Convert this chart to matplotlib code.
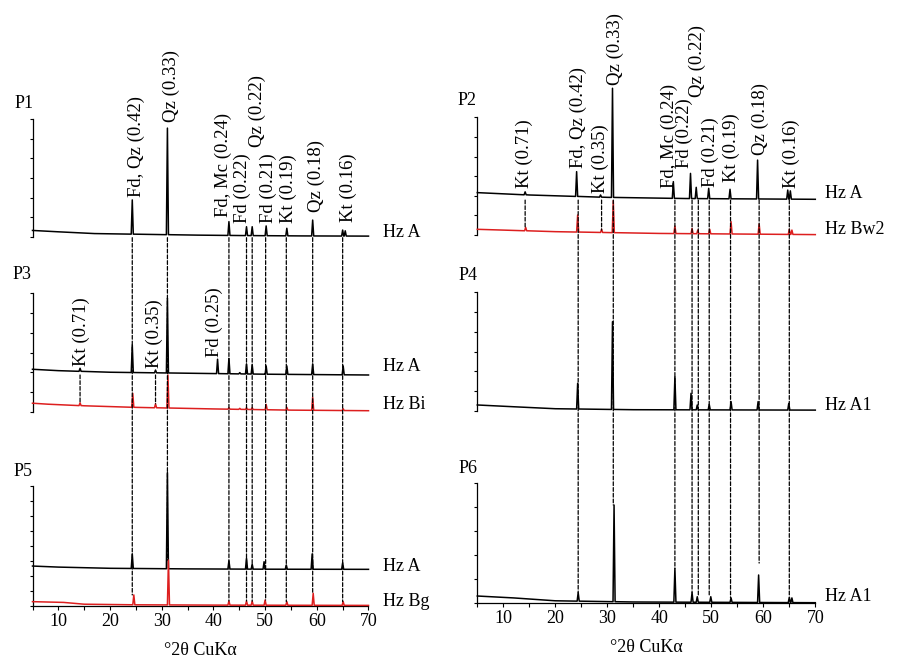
import matplotlib
matplotlib.use("Agg")
import matplotlib.pyplot as plt
from matplotlib.patches import ConnectionPatch
import numpy as np

plt.rcParams['font.family'] = ['Liberation Serif', 'DejaVu Serif']

# --- data (intensity in tick units of each panel) ---
two_theta_ticks = [10, 20, 30, 40, 50, 60, 70]

# P1
p1a_bg_x = [5, 10, 17, 27, 37, 45, 57, 70]
p1a_bg_y = [0.32, 0.25, 0.16, 0.12, 0.08, 0.06, 0.04, 0.03]
p1a_pk_x = [24.3, 31.1, 43.0, 46.4, 47.5, 50.2, 54.2, 59.2, 65.0, 65.5]
p1a_pk_h = [1.88, 5.55, 0.77, 0.51, 0.51, 0.55, 0.43, 0.85, 0.34, 0.30]

# P3
p3a_bg_x = [5, 10, 20, 35, 50, 70]
p3a_bg_y = [2.15, 2.08, 2.00, 1.95, 1.90, 1.86]
p3a_pk_x = [14.2, 24.3, 28.8, 31.1, 40.8, 43.0, 45.1, 46.4, 47.5, 50.2, 54.2, 59.2, 65.1]
p3a_pk_h = [2.20, 3.38, 2.11, 5.75, 2.66, 2.70, 1.98, 2.42, 2.37, 2.32, 2.32, 2.42, 2.32]
p3b_bg_x = [5, 8, 15, 25, 40, 55, 70]
p3b_bg_y = [0.43, 0.38, 0.30, 0.22, 0.14, 0.08, 0.05]
p3b_pk_x = [14.2, 24.4, 28.8, 31.2, 43.0, 45.1, 46.4, 47.5, 50.2, 54.2, 59.2, 65.1]
p3b_pk_h = [0.45, 0.93, 0.40, 1.86, 0.20, 0.17, 0.20, 0.20, 0.37, 0.22, 0.73, 0.15]

# P5
p5a_bg_x = [5, 10, 20, 35, 50, 70]
p5a_bg_y = [2.65, 2.58, 2.50, 2.46, 2.44, 2.43]
p5a_pk_x = [24.3, 31.1, 43.0, 46.4, 47.5, 49.8, 54.1, 59.1, 65.0]
p5a_pk_h = [3.46, 8.90, 3.00, 3.17, 2.77, 2.94, 2.72, 3.46, 2.87]
p5b_bg_x = [5, 11, 15, 25, 40, 70]
p5b_bg_y = [0.27, 0.22, 0.10, 0.06, 0.04, 0.02]
p5b_pk_x = [24.6, 31.3, 43.0, 46.4, 47.5, 50.0, 54.2, 59.3, 65.1]
p5b_pk_h = [0.72, 3.05, 0.31, 0.31, 0.30, 0.38, 0.27, 0.83, 0.27]

# P2
p2a_bg_x = [5, 15, 30, 45, 70]
p2a_bg_y = [2.16, 2.04, 1.92, 1.86, 1.82]
p2a_pk_x = [14.2, 24.1, 28.7, 31.0, 42.7, 46.0, 47.1, 49.5, 53.6, 58.9, 64.7, 65.2]
p2a_pk_h = [2.20, 3.23, 2.04, 7.48, 2.72, 3.14, 2.43, 2.38, 2.33, 3.82, 2.29, 2.25]
p2b_bg_x = [5, 10, 20, 40, 70]
p2b_bg_y = [0.29, 0.25, 0.17, 0.08, 0.02]
p2b_pk_x = [14.3, 24.3, 28.9, 31.15, 43.0, 46.3, 47.4, 49.7, 53.8, 59.2, 65.0, 65.5]
p2b_pk_h = [0.39, 1.02, 0.29, 1.75, 0.46, 0.33, 0.25, 0.29, 0.68, 0.56, 0.29, 0.25]

# P4
p4a_bg_x = [5, 12, 20, 35, 70]
p4a_bg_y = [0.29, 0.20, 0.10, 0.05, 0.03]
p4a_pk_x = [24.3, 31.0, 43.0, 46.1, 47.3, 49.6, 53.8, 59.0, 64.9]
p4a_pk_h = [1.39, 4.51, 1.72, 0.88, 0.29, 0.32, 0.46, 0.46, 0.37]

# P6
p6a_bg_x = [5, 12, 20, 35, 70]
p6a_bg_y = [0.28, 0.20, 0.08, 0.03, 0.00]
p6a_pk_x = [24.4, 31.3, 43.0, 46.3, 47.3, 49.9, 53.8, 59.1, 65.0, 65.5]
p6a_pk_h = [0.42, 4.09, 1.44, 0.42, 0.25, 0.25, 0.20, 1.16, 0.23, 0.20]

# reference lines (dashed)
left_lines = [24.3, 31.1, 43.0, 46.4, 47.5, 50.1, 54.1, 59.2, 65.0]
left_line_end = p5b_pk_h
right_lines = [24.4, 31.15, 43.0, 46.3, 47.5, 49.6, 53.7, 59.2, 65.0]
right_line_end = [0.42, 4.09, 1.44, 0.42, 0.30, 0.30, 0.20, 1.66, 0.30]
p3_kt_lines = [14.2, 28.8]
p3_kt_end = [0.45, 0.40]
p2_kt_lines = [14.2, 28.9]
p2_kt_end = [0.42, 0.25]

# peak labels
p1_lab = ["Fd, Qz (0.42)", "Qz (0.33)", "Fd, Mc (0.24)", "Fd (0.22)", "Qz (0.22)",
          "Fd (0.21)", "Kt (0.19)", "Qz (0.18)", "Kt (0.16)"]
p1_lab_x = [25.0, 31.9, 42.0, 45.6, 48.4, 50.6, 54.55, 60.0, 66.1]
p1_lab_y = [2.04, 5.88, 1.02, 0.68, 4.60, 0.68, 0.68, 1.28, 0.77]
p3_lab = ["Kt (0.71)", "Kt (0.35)", "Fd (0.25)"]
p3_lab_x = [14.5, 28.5, 40.1]
p3_lab_y = [2.32, 2.22, 2.79]
p2_lab = ["Kt (0.71)", "Fd, Qz (0.42)", "Kt (0.35)", "Qz (0.33)", "Fd, Mc (0.24)",
          "Fd (0.22)", "Qz (0.22)", "Fd (0.21)", "Kt (0.19)", "Qz (0.18)", "Kt (0.16)"]
p2_lab_x = [14.0, 24.4, 28.6, 31.5, 41.9, 44.9, 47.3, 49.85, 53.9, 59.4, 65.3]
p2_lab_y = [2.38, 3.40, 2.12, 7.65, 2.38, 3.40, 7.05, 2.46, 2.72, 4.08, 2.38]

BLACK = 'black'
RED = '#dd1f1f'


def trace(bg_x, bg_y, pk_x, pk_h, w=0.2):
    xs = list(bg_x)
    ys = list(bg_y)
    for p, h in zip(pk_x, pk_h):
        b = np.interp(p, bg_x, bg_y)
        xs += [p - w, p, p + w]
        ys += [b, h, b]
    order = np.argsort(xs, kind='stable')
    return np.array(xs)[order], np.array(ys)[order]


fig = plt.figure(figsize=(9.01, 6.61), dpi=100)
W, H = 901.0, 661.0


def panel(x0, x1, ytop, ybot, nticks, bottom=False):
    ax = fig.add_axes([x0 / W, (H - ybot) / H, (x1 - x0) / W, (ybot - ytop) / H])
    ax.set_xlim(5, 70)
    ax.set_ylim(0, nticks)
    ax.patch.set_alpha(0)
    for s in ['top', 'right']:
        ax.spines[s].set_visible(False)
    ax.spines['left'].set_linewidth(0.9)
    ax.set_yticks(range(nticks + 1))
    ax.tick_params(axis='y', direction='out', length=2.5, width=0.8, labelleft=False)
    if bottom:
        ax.spines['bottom'].set_linewidth(0.9)
        ax.set_xticks(two_theta_ticks)
        ax.set_xticks(np.arange(5, 71, 5), minor=True)
        ax.tick_params(axis='x', which='both', direction='out', length=3, width=0.8,
                       labelsize=13, pad=2)
        ax.set_xlabel("°2θ CuKα", fontsize=13, labelpad=9)
    else:
        ax.spines['bottom'].set_visible(False)
        ax.set_xticks([])
    return ax


ax1 = panel(32.5, 368.5, 119.3, 236.7, 6)
ax3 = panel(32.5, 368.5, 293.3, 411.7, 6)
ax5 = panel(32.5, 368.5, 486.0, 605.7, 8, bottom=True)
ax2 = panel(477.3, 815.3, 117.3, 235.0, 6)
ax4 = panel(477.3, 815.3, 292.3, 410.7, 6)
ax6 = panel(477.3, 815.3, 483.3, 602.7, 5, bottom=True)

traces = [
    (ax1, p1a_bg_x, p1a_bg_y, p1a_pk_x, p1a_pk_h, BLACK),
    (ax3, p3a_bg_x, p3a_bg_y, p3a_pk_x, p3a_pk_h, BLACK),
    (ax3, p3b_bg_x, p3b_bg_y, p3b_pk_x, p3b_pk_h, RED),
    (ax5, p5a_bg_x, p5a_bg_y, p5a_pk_x, p5a_pk_h, BLACK),
    (ax5, p5b_bg_x, p5b_bg_y, p5b_pk_x, p5b_pk_h, RED),
    (ax2, p2a_bg_x, p2a_bg_y, p2a_pk_x, p2a_pk_h, BLACK),
    (ax2, p2b_bg_x, p2b_bg_y, p2b_pk_x, p2b_pk_h, RED),
    (ax4, p4a_bg_x, p4a_bg_y, p4a_pk_x, p4a_pk_h, BLACK),
    (ax6, p6a_bg_x, p6a_bg_y, p6a_pk_x, p6a_pk_h, BLACK),
]
for ax, bx, by, px, ph, c in traces:
    x, y = trace(bx, by, px, ph)
    ax.plot(x, y, color=c, lw=1.1, clip_on=False, zorder=3)

dash = (0, (3, 1.6))


def dashed(x, axA, yA, axB, yB):
    con = ConnectionPatch(xyA=(x, yA), coordsA=axA.transData,
                          xyB=(x, yB), coordsB=axB.transData,
                          color='black', lw=0.9, linestyle=dash, zorder=2)
    fig.add_artist(con)


for x, e in zip(left_lines, left_line_end):
    dashed(x, ax1, -0.05, ax5, e)
for x, e in zip(right_lines, right_line_end):
    dashed(x, ax2, 1.78, ax6, e)
for x, e in zip(p3_kt_lines, p3_kt_end):
    dashed(x, ax3, 1.86, ax3, e)
for x, e in zip(p2_kt_lines, p2_kt_end):
    dashed(x, ax2, 1.78, ax2, e)

for ax, labs, lx, ly in [(ax1, p1_lab, p1_lab_x, p1_lab_y),
                         (ax3, p3_lab, p3_lab_x, p3_lab_y),
                         (ax2, p2_lab, p2_lab_x, p2_lab_y)]:
    for t, x, y in zip(labs, lx, ly):
        ax.text(x, y, t, rotation=90, ha='center', va='bottom', fontsize=13.5)

# sample names at the right end of each trace
names = [(ax1, 72.8, 0.20, "Hz A"), (ax3, 72.8, 2.28, "Hz A"), (ax3, 72.8, 0.39, "Hz Bi"),
         (ax5, 72.8, 2.60, "Hz A"), (ax5, 72.8, 0.27, "Hz Bg"),
         (ax2, 71.9, 2.12, "Hz A"), (ax2, 71.9, 0.28, "Hz Bw2"),
         (ax4, 71.9, 0.24, "Hz A1"), (ax6, 71.9, 0.24, "Hz A1")]
for ax, x, y, t in names:
    ax.text(x, y, t, ha='left', va='center', fontsize=13)

# profile names
for ax, x, y, t in [(ax1, 1.6, 6.82, "P1"), (ax3, 1.17, 6.93, "P3"), (ax5, 1.28, 8.94, "P5"),
                    (ax2, 1.15, 6.88, "P2"), (ax4, 1.35, 6.84, "P4"), (ax6, 1.35, 5.63, "P6")]:
    ax.text(x, y, t, ha='left', va='center', fontsize=13)

fig.savefig("out.png", dpi=100)
